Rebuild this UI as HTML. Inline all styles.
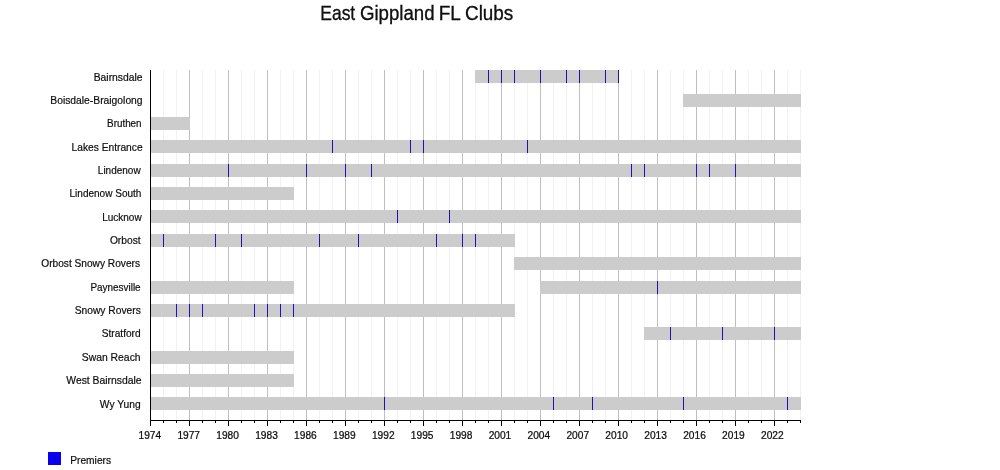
<!DOCTYPE html>
<html><head><meta charset="utf-8"><title>East Gippland FL Clubs</title>
<style>
html,body{margin:0;padding:0;background:#fff;}
body{width:1000px;height:470px;overflow:hidden;position:relative;font-family:"Liberation Sans",sans-serif;}
svg{position:absolute;left:0;top:0;display:block;}
text{font-family:"Liberation Sans",sans-serif;fill:#111;}
</style></head><body>
<svg width="1000" height="470" viewBox="0 0 1000 470">
<rect x="0" y="0" width="1000" height="470" fill="#ffffff"/>
<g shape-rendering="crispEdges">
<rect x="163" y="70" width="1" height="350" fill="#f2f2f2"/>
<rect x="176" y="70" width="1" height="350" fill="#f2f2f2"/>
<rect x="202" y="70" width="1" height="350" fill="#f2f2f2"/>
<rect x="215" y="70" width="1" height="350" fill="#f2f2f2"/>
<rect x="241" y="70" width="1" height="350" fill="#f2f2f2"/>
<rect x="254" y="70" width="1" height="350" fill="#f2f2f2"/>
<rect x="280" y="70" width="1" height="350" fill="#f2f2f2"/>
<rect x="293" y="70" width="1" height="350" fill="#f2f2f2"/>
<rect x="319" y="70" width="1" height="350" fill="#f2f2f2"/>
<rect x="332" y="70" width="1" height="350" fill="#f2f2f2"/>
<rect x="358" y="70" width="1" height="350" fill="#f2f2f2"/>
<rect x="371" y="70" width="1" height="350" fill="#f2f2f2"/>
<rect x="397" y="70" width="1" height="350" fill="#f2f2f2"/>
<rect x="410" y="70" width="1" height="350" fill="#f2f2f2"/>
<rect x="436" y="70" width="1" height="350" fill="#f2f2f2"/>
<rect x="449" y="70" width="1" height="350" fill="#f2f2f2"/>
<rect x="475" y="70" width="1" height="350" fill="#f2f2f2"/>
<rect x="488" y="70" width="1" height="350" fill="#f2f2f2"/>
<rect x="514" y="70" width="1" height="350" fill="#f2f2f2"/>
<rect x="527" y="70" width="1" height="350" fill="#f2f2f2"/>
<rect x="553" y="70" width="1" height="350" fill="#f2f2f2"/>
<rect x="566" y="70" width="1" height="350" fill="#f2f2f2"/>
<rect x="592" y="70" width="1" height="350" fill="#f2f2f2"/>
<rect x="605" y="70" width="1" height="350" fill="#f2f2f2"/>
<rect x="631" y="70" width="1" height="350" fill="#f2f2f2"/>
<rect x="644" y="70" width="1" height="350" fill="#f2f2f2"/>
<rect x="670" y="70" width="1" height="350" fill="#f2f2f2"/>
<rect x="683" y="70" width="1" height="350" fill="#f2f2f2"/>
<rect x="709" y="70" width="1" height="350" fill="#f2f2f2"/>
<rect x="722" y="70" width="1" height="350" fill="#f2f2f2"/>
<rect x="748" y="70" width="1" height="350" fill="#f2f2f2"/>
<rect x="761" y="70" width="1" height="350" fill="#f2f2f2"/>
<rect x="787" y="70" width="1" height="350" fill="#f2f2f2"/>
<rect x="800" y="70" width="1" height="350" fill="#f2f2f2"/>
<rect x="189" y="70" width="1" height="350" fill="#bfbfbf"/>
<rect x="228" y="70" width="1" height="350" fill="#bfbfbf"/>
<rect x="267" y="70" width="1" height="350" fill="#bfbfbf"/>
<rect x="306" y="70" width="1" height="350" fill="#bfbfbf"/>
<rect x="345" y="70" width="1" height="350" fill="#bfbfbf"/>
<rect x="384" y="70" width="1" height="350" fill="#bfbfbf"/>
<rect x="423" y="70" width="1" height="350" fill="#bfbfbf"/>
<rect x="462" y="70" width="1" height="350" fill="#bfbfbf"/>
<rect x="501" y="70" width="1" height="350" fill="#bfbfbf"/>
<rect x="540" y="70" width="1" height="350" fill="#bfbfbf"/>
<rect x="579" y="70" width="1" height="350" fill="#bfbfbf"/>
<rect x="618" y="70" width="1" height="350" fill="#bfbfbf"/>
<rect x="657" y="70" width="1" height="350" fill="#bfbfbf"/>
<rect x="696" y="70" width="1" height="350" fill="#bfbfbf"/>
<rect x="735" y="70" width="1" height="350" fill="#bfbfbf"/>
<rect x="774" y="70" width="1" height="350" fill="#bfbfbf"/>
<rect x="475" y="70.00" width="144" height="13" fill="#cccccc"/>
<rect x="488" y="70.00" width="1" height="13" fill="#2010bc"/>
<rect x="501" y="70.00" width="1" height="13" fill="#2010bc"/>
<rect x="514" y="70.00" width="1" height="13" fill="#2010bc"/>
<rect x="540" y="70.00" width="1" height="13" fill="#2010bc"/>
<rect x="566" y="70.00" width="1" height="13" fill="#2010bc"/>
<rect x="579" y="70.00" width="1" height="13" fill="#2010bc"/>
<rect x="605" y="70.00" width="1" height="13" fill="#2010bc"/>
<rect x="618" y="70.00" width="1" height="13" fill="#2010bc"/>
<rect x="683" y="94.00" width="118" height="13" fill="#cccccc"/>
<rect x="150" y="117.00" width="40" height="13" fill="#cccccc"/>
<rect x="150" y="140.00" width="651" height="13" fill="#cccccc"/>
<rect x="332" y="140.00" width="1" height="13" fill="#2010bc"/>
<rect x="410" y="140.00" width="1" height="13" fill="#2010bc"/>
<rect x="423" y="140.00" width="1" height="13" fill="#2010bc"/>
<rect x="527" y="140.00" width="1" height="13" fill="#2010bc"/>
<rect x="150" y="164.00" width="651" height="13" fill="#cccccc"/>
<rect x="228" y="164.00" width="1" height="13" fill="#2010bc"/>
<rect x="306" y="164.00" width="1" height="13" fill="#2010bc"/>
<rect x="345" y="164.00" width="1" height="13" fill="#2010bc"/>
<rect x="371" y="164.00" width="1" height="13" fill="#2010bc"/>
<rect x="631" y="164.00" width="1" height="13" fill="#2010bc"/>
<rect x="644" y="164.00" width="1" height="13" fill="#2010bc"/>
<rect x="696" y="164.00" width="1" height="13" fill="#2010bc"/>
<rect x="709" y="164.00" width="1" height="13" fill="#2010bc"/>
<rect x="735" y="164.00" width="1" height="13" fill="#2010bc"/>
<rect x="150" y="187.00" width="144" height="13" fill="#cccccc"/>
<rect x="150" y="210.00" width="651" height="13" fill="#cccccc"/>
<rect x="397" y="210.00" width="1" height="13" fill="#2010bc"/>
<rect x="449" y="210.00" width="1" height="13" fill="#2010bc"/>
<rect x="150" y="234.00" width="365" height="13" fill="#cccccc"/>
<rect x="163" y="234.00" width="1" height="13" fill="#2010bc"/>
<rect x="215" y="234.00" width="1" height="13" fill="#2010bc"/>
<rect x="241" y="234.00" width="1" height="13" fill="#2010bc"/>
<rect x="319" y="234.00" width="1" height="13" fill="#2010bc"/>
<rect x="358" y="234.00" width="1" height="13" fill="#2010bc"/>
<rect x="436" y="234.00" width="1" height="13" fill="#2010bc"/>
<rect x="462" y="234.00" width="1" height="13" fill="#2010bc"/>
<rect x="475" y="234.00" width="1" height="13" fill="#2010bc"/>
<rect x="514" y="257.00" width="287" height="13" fill="#cccccc"/>
<rect x="150" y="281.00" width="144" height="13" fill="#cccccc"/>
<rect x="540" y="281.00" width="261" height="13" fill="#cccccc"/>
<rect x="657" y="281.00" width="1" height="13" fill="#2010bc"/>
<rect x="150" y="304.00" width="365" height="13" fill="#cccccc"/>
<rect x="176" y="304.00" width="1" height="13" fill="#2010bc"/>
<rect x="189" y="304.00" width="1" height="13" fill="#2010bc"/>
<rect x="202" y="304.00" width="1" height="13" fill="#2010bc"/>
<rect x="254" y="304.00" width="1" height="13" fill="#2010bc"/>
<rect x="267" y="304.00" width="1" height="13" fill="#2010bc"/>
<rect x="280" y="304.00" width="1" height="13" fill="#2010bc"/>
<rect x="293" y="304.00" width="1" height="13" fill="#2010bc"/>
<rect x="644" y="327.00" width="157" height="13" fill="#cccccc"/>
<rect x="670" y="327.00" width="1" height="13" fill="#2010bc"/>
<rect x="722" y="327.00" width="1" height="13" fill="#2010bc"/>
<rect x="774" y="327.00" width="1" height="13" fill="#2010bc"/>
<rect x="150" y="351.00" width="144" height="13" fill="#cccccc"/>
<rect x="150" y="374.00" width="144" height="13" fill="#cccccc"/>
<rect x="150" y="397.00" width="651" height="13" fill="#cccccc"/>
<rect x="384" y="397.00" width="1" height="13" fill="#2010bc"/>
<rect x="553" y="397.00" width="1" height="13" fill="#2010bc"/>
<rect x="592" y="397.00" width="1" height="13" fill="#2010bc"/>
<rect x="683" y="397.00" width="1" height="13" fill="#2010bc"/>
<rect x="787" y="397.00" width="1" height="13" fill="#2010bc"/>
<rect x="150" y="70" width="1" height="351" fill="#000"/>
<rect x="150" y="420" width="651" height="1" fill="#000"/>
<rect x="150" y="420" width="1" height="6" fill="#000"/>
<rect x="163" y="420" width="1" height="3" fill="#000"/>
<rect x="176" y="420" width="1" height="3" fill="#000"/>
<rect x="189" y="420" width="1" height="6" fill="#000"/>
<rect x="202" y="420" width="1" height="3" fill="#000"/>
<rect x="215" y="420" width="1" height="3" fill="#000"/>
<rect x="228" y="420" width="1" height="6" fill="#000"/>
<rect x="241" y="420" width="1" height="3" fill="#000"/>
<rect x="254" y="420" width="1" height="3" fill="#000"/>
<rect x="267" y="420" width="1" height="6" fill="#000"/>
<rect x="280" y="420" width="1" height="3" fill="#000"/>
<rect x="293" y="420" width="1" height="3" fill="#000"/>
<rect x="306" y="420" width="1" height="6" fill="#000"/>
<rect x="319" y="420" width="1" height="3" fill="#000"/>
<rect x="332" y="420" width="1" height="3" fill="#000"/>
<rect x="345" y="420" width="1" height="6" fill="#000"/>
<rect x="358" y="420" width="1" height="3" fill="#000"/>
<rect x="371" y="420" width="1" height="3" fill="#000"/>
<rect x="384" y="420" width="1" height="6" fill="#000"/>
<rect x="397" y="420" width="1" height="3" fill="#000"/>
<rect x="410" y="420" width="1" height="3" fill="#000"/>
<rect x="423" y="420" width="1" height="6" fill="#000"/>
<rect x="436" y="420" width="1" height="3" fill="#000"/>
<rect x="449" y="420" width="1" height="3" fill="#000"/>
<rect x="462" y="420" width="1" height="6" fill="#000"/>
<rect x="475" y="420" width="1" height="3" fill="#000"/>
<rect x="488" y="420" width="1" height="3" fill="#000"/>
<rect x="501" y="420" width="1" height="6" fill="#000"/>
<rect x="514" y="420" width="1" height="3" fill="#000"/>
<rect x="527" y="420" width="1" height="3" fill="#000"/>
<rect x="540" y="420" width="1" height="6" fill="#000"/>
<rect x="553" y="420" width="1" height="3" fill="#000"/>
<rect x="566" y="420" width="1" height="3" fill="#000"/>
<rect x="579" y="420" width="1" height="6" fill="#000"/>
<rect x="592" y="420" width="1" height="3" fill="#000"/>
<rect x="605" y="420" width="1" height="3" fill="#000"/>
<rect x="618" y="420" width="1" height="6" fill="#000"/>
<rect x="631" y="420" width="1" height="3" fill="#000"/>
<rect x="644" y="420" width="1" height="3" fill="#000"/>
<rect x="657" y="420" width="1" height="6" fill="#000"/>
<rect x="670" y="420" width="1" height="3" fill="#000"/>
<rect x="683" y="420" width="1" height="3" fill="#000"/>
<rect x="696" y="420" width="1" height="6" fill="#000"/>
<rect x="709" y="420" width="1" height="3" fill="#000"/>
<rect x="722" y="420" width="1" height="3" fill="#000"/>
<rect x="735" y="420" width="1" height="6" fill="#000"/>
<rect x="748" y="420" width="1" height="3" fill="#000"/>
<rect x="761" y="420" width="1" height="3" fill="#000"/>
<rect x="774" y="420" width="1" height="6" fill="#000"/>
<rect x="787" y="420" width="1" height="3" fill="#000"/>
<rect x="800" y="420" width="1" height="3" fill="#000"/>
<rect x="48" y="452" width="13" height="13" fill="#0a00f0"/>
</g>
<g id="txt" style="opacity:0.999">
<text transform="translate(320.30,19.5) scale(0.900,1)" font-size="19.4" fill="#000" stroke="#000" stroke-width="0.3">East</text>
<text transform="translate(359.90,19.5) scale(0.962,1)" font-size="19.4" fill="#000" stroke="#000" stroke-width="0.3">Gippland</text>
<text transform="translate(438.80,19.5) scale(0.975,1)" font-size="19.4" fill="#000" stroke="#000" stroke-width="0.3">FL</text>
<text transform="translate(465.00,19.5) scale(0.975,1)" font-size="19.4" fill="#000" stroke="#000" stroke-width="0.3">Clubs</text>
<text transform="translate(142.60,80.5) scale(0.941,1)" font-size="11" text-anchor="end" fill="#000" stroke="#000" stroke-width="0.2">Bairnsdale</text>
<text transform="translate(142.60,103.9) scale(0.938,1)" font-size="11" text-anchor="end" fill="#000" stroke="#000" stroke-width="0.2">Boisdale-Braigolong</text>
<text transform="translate(141.60,127.2) scale(0.898,1)" font-size="11" text-anchor="end" fill="#000" stroke="#000" stroke-width="0.2">Bruthen</text>
<text transform="translate(142.60,150.6) scale(0.931,1)" font-size="11" text-anchor="end" fill="#000" stroke="#000" stroke-width="0.2">Lakes Entrance</text>
<text transform="translate(140.60,173.9) scale(0.909,1)" font-size="11" text-anchor="end" fill="#000" stroke="#000" stroke-width="0.2">Lindenow</text>
<text transform="translate(141.40,197.3) scale(0.912,1)" font-size="11" text-anchor="end" fill="#000" stroke="#000" stroke-width="0.2">Lindenow South</text>
<text transform="translate(141.60,220.6) scale(0.909,1)" font-size="11" text-anchor="end" fill="#000" stroke="#000" stroke-width="0.2">Lucknow</text>
<text transform="translate(140.60,244.0) scale(0.931,1)" font-size="11" text-anchor="end" fill="#000" stroke="#000" stroke-width="0.2">Orbost</text>
<text transform="translate(140.00,267.4) scale(0.924,1)" font-size="11" text-anchor="end" fill="#000" stroke="#000" stroke-width="0.2">Orbost Snowy Rovers</text>
<text transform="translate(140.60,290.7) scale(0.902,1)" font-size="11" text-anchor="end" fill="#000" stroke="#000" stroke-width="0.2">Paynesville</text>
<text transform="translate(140.80,314.1) scale(0.935,1)" font-size="11" text-anchor="end" fill="#000" stroke="#000" stroke-width="0.2">Snowy Rovers</text>
<text transform="translate(140.60,337.4) scale(0.922,1)" font-size="11" text-anchor="end" fill="#000" stroke="#000" stroke-width="0.2">Stratford</text>
<text transform="translate(140.60,360.8) scale(0.944,1)" font-size="11" text-anchor="end" fill="#000" stroke="#000" stroke-width="0.2">Swan Reach</text>
<text transform="translate(141.60,384.1) scale(0.943,1)" font-size="11" text-anchor="end" fill="#000" stroke="#000" stroke-width="0.2">West Bairnsdale</text>
<text transform="translate(140.60,407.5) scale(0.933,1)" font-size="11" text-anchor="end" fill="#000" stroke="#000" stroke-width="0.2">Wy Yung</text>
<text transform="translate(149.80,439) scale(0.925,1)" font-size="11" text-anchor="middle" fill="#000" stroke="#000" stroke-width="0.25">1974</text>
<text transform="translate(188.71,439) scale(0.925,1)" font-size="11" text-anchor="middle" fill="#000" stroke="#000" stroke-width="0.25">1977</text>
<text transform="translate(227.61,439) scale(0.925,1)" font-size="11" text-anchor="middle" fill="#000" stroke="#000" stroke-width="0.25">1980</text>
<text transform="translate(266.52,439) scale(0.925,1)" font-size="11" text-anchor="middle" fill="#000" stroke="#000" stroke-width="0.25">1983</text>
<text transform="translate(305.42,439) scale(0.925,1)" font-size="11" text-anchor="middle" fill="#000" stroke="#000" stroke-width="0.25">1986</text>
<text transform="translate(344.33,439) scale(0.925,1)" font-size="11" text-anchor="middle" fill="#000" stroke="#000" stroke-width="0.25">1989</text>
<text transform="translate(383.24,439) scale(0.925,1)" font-size="11" text-anchor="middle" fill="#000" stroke="#000" stroke-width="0.25">1992</text>
<text transform="translate(422.14,439) scale(0.925,1)" font-size="11" text-anchor="middle" fill="#000" stroke="#000" stroke-width="0.25">1995</text>
<text transform="translate(461.05,439) scale(0.925,1)" font-size="11" text-anchor="middle" fill="#000" stroke="#000" stroke-width="0.25">1998</text>
<text transform="translate(499.95,439) scale(0.925,1)" font-size="11" text-anchor="middle" fill="#000" stroke="#000" stroke-width="0.25">2001</text>
<text transform="translate(538.86,439) scale(0.925,1)" font-size="11" text-anchor="middle" fill="#000" stroke="#000" stroke-width="0.25">2004</text>
<text transform="translate(577.77,439) scale(0.925,1)" font-size="11" text-anchor="middle" fill="#000" stroke="#000" stroke-width="0.25">2007</text>
<text transform="translate(616.67,439) scale(0.925,1)" font-size="11" text-anchor="middle" fill="#000" stroke="#000" stroke-width="0.25">2010</text>
<text transform="translate(655.58,439) scale(0.925,1)" font-size="11" text-anchor="middle" fill="#000" stroke="#000" stroke-width="0.25">2013</text>
<text transform="translate(694.48,439) scale(0.925,1)" font-size="11" text-anchor="middle" fill="#000" stroke="#000" stroke-width="0.25">2016</text>
<text transform="translate(733.39,439) scale(0.925,1)" font-size="11" text-anchor="middle" fill="#000" stroke="#000" stroke-width="0.25">2019</text>
<text transform="translate(772.30,439) scale(0.925,1)" font-size="11" text-anchor="middle" fill="#000" stroke="#000" stroke-width="0.25">2022</text>
<text transform="translate(70.2,464) scale(0.93,1)" font-size="11" fill="#000" stroke="#000" stroke-width="0.2">Premiers</text>
</g>
</svg>
</body></html>
